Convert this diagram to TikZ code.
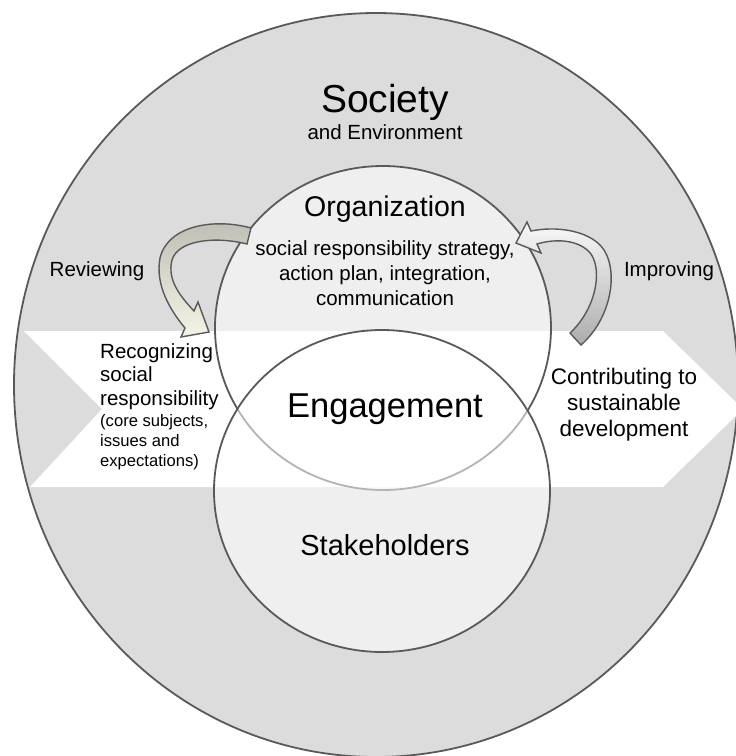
\documentclass[tikz,border=0pt]{standalone}
\usepackage{fontspec}
\setmainfont{Liberation Sans}

\definecolor{ringgray}{HTML}{DCDCDC}
\definecolor{linegray}{HTML}{595959}
\definecolor{revtop}{HTML}{BDBDB4}
\definecolor{revbot}{HTML}{F4F4E6}
\newcommand{\fsz}[2]{\fontsize{#1}{#2}\selectfont}

\begin{document}
\begin{tikzpicture}[x=1pt,y=-1pt,
        lbl/.style={inner sep=0pt, align=center, font=\fsz{20.5}{25}},
        circ/.style={fill=white, fill opacity=0.55, draw=linegray, line width=1.8pt}]
        \useasboundingbox (0,0) rectangle (736,756);

        % society ring and white band
        \filldraw[fill=ringgray, draw=linegray, line width=1.8pt] (376,385) ellipse [x radius=362, y radius=372];
        \fill[white] (24,331) -- (663,331) -- (743,409) -- (663,487) -- (30,487) -- (102,409) -- cycle;

        % organization and stakeholders
        \filldraw[circ] (383,328) ellipse [x radius=168, y radius=162];
        \filldraw[circ] (382,491) ellipse [x radius=168, y radius=161];

        % reviewing arrow
        \shadedraw[top color=revtop, bottom color=revbot, draw=linegray, line width=1.4pt, line join=miter]
            (251,228) .. controls (215,218) and (168,225) .. (160,258)
            .. controls (155,285) and (170,310) .. (185,328)
            -- (181,337) -- (209,332) -- (198,302) -- (194,311)
            .. controls (180,296) and (167,280) .. (172,260)
            .. controls (178,240) and (215,236) .. (247,244) -- cycle;

        % improving arrow
        \shadedraw[top color=white!95!gray, bottom color=gray!65, draw=linegray, line width=1.4pt, line join=miter]
            (581,345) .. controls (612,318) and (620,268) .. (601,246)
            .. controls (586,230) and (556,226) .. (531,231)
            -- (527,222) -- (516,243) -- (541,253) -- (537,244)
            .. controls (557,238) and (580,240) .. (591,254)
            .. controls (603,272) and (595,310) .. (570,333) -- cycle;

        \node[inner sep=0pt, font=\fsz{39}{44}, anchor=base] (soc) at (385,112) {Society};
        \node[lbl, anchor=base] (env) at (385,139) {and Environment};
        \node[inner sep=0pt, font=\fsz{28.5}{32}, anchor=base] (org) at (385,216) {Organization};
        \node[lbl, anchor=north] (orgtxt) at (385,240) {social responsibility strategy,\\action plan, integration,\\communication};
        \node[lbl, anchor=base] (rev) at (97,276) {Reviewing};
        \node[lbl, anchor=base] (imp) at (669,276) {Improving};
        \node[inner sep=0pt, align=left, font=\fsz{20.5}{23.5}, anchor=north west] (recog) at (100,343) {Recognizing\\social\\responsibility};
        \node[inner sep=0pt, align=left, font=\fsz{16.6}{20}, anchor=north west] (recogsub) at (100,414) {(core subjects,\\issues and\\expectations)};
        \node[inner sep=0pt, font=\fsz{34.5}{40}, anchor=base] (eng) at (385,417) {Engagement};
        \node[inner sep=0pt, align=center, font=\fsz{22.5}{26}, anchor=north] (contrib) at (624,368) {Contributing to\\sustainable\\development};
        \node[inner sep=0pt, font=\fsz{29}{34}, anchor=base] (stake) at (385,555) {Stakeholders};
\end{tikzpicture}
\end{document}
